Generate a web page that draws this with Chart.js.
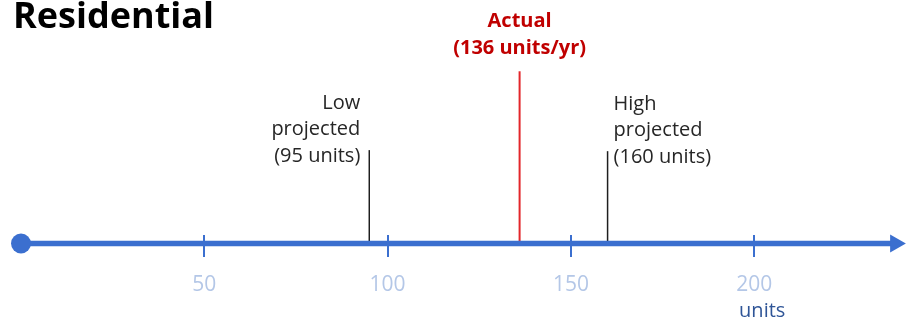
<!DOCTYPE html>
<html><head><meta charset="utf-8">
<script src="https://cdn.jsdelivr.net/npm/chart.js@4.4.1/dist/chart.umd.min.js"></script>
<style>html,body{margin:0;padding:0;background:#fff}#wrap{width:906px;height:324px;position:relative}</style>
</head><body><div id="wrap"><canvas id="c"></canvas></div>
<script>
const chartTitle = 'Residential';
const unitLabel = 'units';
const tickValues = [50, 100, 150, 200];
const axisStart = 0;
const axisEnd = 238.5;
const axisMax = 241.4;
const markerValues = [95, 136, 160];
const markerLabels = [
  ['Low', 'projected', '(95 units)'],
  ['Actual', '(136 units/yr)'],
  ['High', 'projected', '(160 units)']
];
const markerHeights = [0.45, 0.83, 0.445];

const axisColor = '#3b6fcf';
const markerColors = ['#1e1e1e', '#e3262a', '#1e1e1e'];
const markerWidths = [1.5, 2, 1.5];
const markerSides = ['left', 'center', 'right'];
const markerTextColors = ['#262626', '#c00000', '#262626'];
const markerBold = [false, true, false];

Chart.defaults.font.family = "'Open Sans', 'Noto Sans', sans-serif";

const datasets = [{
  data: [{x: axisStart, y: 0}, {x: axisEnd, y: 0}],
  borderColor: axisColor,
  backgroundColor: axisColor,
  borderWidth: 5.5,
  pointStyle: ['circle', 'triangle'],
  pointRadius: [10, 10.5],
  pointRotation: [0, 90],
  pointBackgroundColor: axisColor,
  pointBorderWidth: 0,
  clip: false
}];
markerValues.forEach((v, i) => {
  datasets.push({
    data: [{x: v, y: 0}, {x: v, y: markerHeights[i]}],
    borderColor: markerColors[i],
    borderWidth: markerWidths[i],
    pointRadius: 0,
    clip: false
  });
});

const annot = {
  id: 'annot',
  afterDatasetsDraw(chart) {
    const {ctx, scales: {x, y}} = chart;
    const y0 = y.getPixelForValue(0);
    ctx.save();
    ctx.strokeStyle = axisColor;
    ctx.lineWidth = 2;
    tickValues.forEach(v => {
      const px = Math.round(x.getPixelForValue(v));
      ctx.beginPath();
      ctx.moveTo(px, y0 - 8.5);
      ctx.lineTo(px, y0 + 13.5);
      ctx.stroke();
    });
    ctx.textBaseline = 'middle';
    markerValues.forEach((v, i) => {
      const px = x.getPixelForValue(v);
      const top = y.getPixelForValue(markerHeights[i]);
      const lines = markerLabels[i];
      ctx.fillStyle = markerTextColors[i];
      ctx.font = (markerBold[i] ? 'bold ' : '') + "20px 'Open Sans', 'Noto Sans', sans-serif";
      let tx, lastY, lh;
      if (markerSides[i] === 'left') { ctx.textAlign = 'right'; tx = px - 9; lastY = top + 6; lh = 26.5; }
      else if (markerSides[i] === 'right') { ctx.textAlign = 'left'; tx = px + 6; lastY = top + 6; lh = 26.5; }
      else { ctx.textAlign = 'center'; tx = px; lastY = top - 23; lh = 27; }
      lines.forEach((t, k) => {
        ctx.fillText(t, tx, lastY - (lines.length - 1 - k) * lh);
      });
    });
    ctx.fillStyle = '#2f5597';
    ctx.textAlign = 'center';
    ctx.font = "20px 'Open Sans', 'Noto Sans', sans-serif";
    ctx.fillText(unitLabel, x.getPixelForValue(tickValues[tickValues.length - 1]) + 8, 311);
    ctx.restore();
  }
};

new Chart(document.getElementById('c'), {
  type: 'line',
  data: {datasets},
  plugins: [annot],
  options: {
    responsive: true,
    maintainAspectRatio: false,
    animation: false,
    events: [],
    layout: {autoPadding: false, padding: {left: 13, right: 0, top: 0, bottom: 0}},
    plugins: {
      legend: {display: false},
      tooltip: {enabled: false},
      title: {
        display: true,
        text: chartTitle,
        align: 'start',
        color: '#000',
        font: {size: 36, weight: 'bold', lineHeight: 1},
        padding: {top: 0, bottom: 0}
      }
    },
    scales: {
      x: {
        type: 'linear',
        min: 0,
        max: axisMax,
        afterBuildTicks: s => { s.ticks = tickValues.map(v => ({value: v})); },
        afterFit: s => { s.height = 80.5; },
        grid: {display: false, drawTicks: false},
        border: {display: false},
        ticks: {color: '#b4c7e7', font: {size: 21}, padding: 29, maxRotation: 0, autoSkip: false}
      },
      y: {
        type: 'linear',
        min: 0,
        max: 1,
        afterFit: s => { s.width = 8; },
        grid: {display: false},
        border: {display: false},
        ticks: {display: false}
      }
    }
  }
});
</script>
</body></html>
